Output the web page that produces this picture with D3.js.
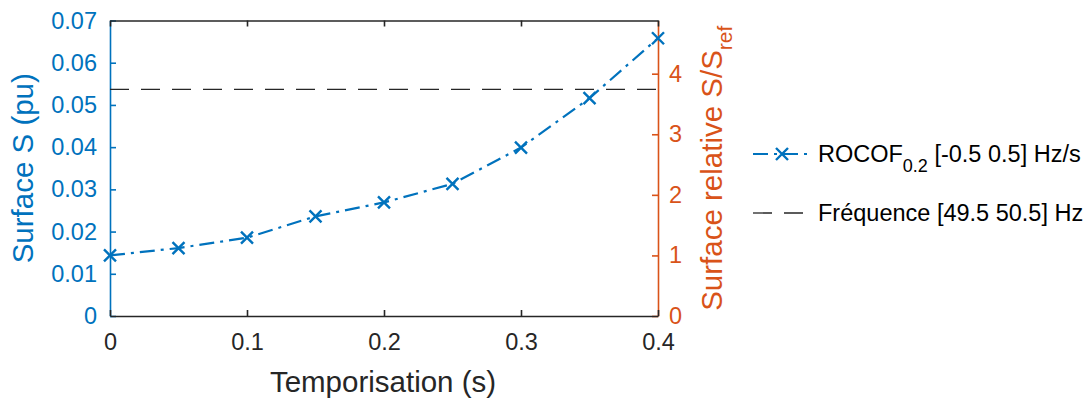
<!DOCTYPE html>
<html><head><meta charset="utf-8">
<script src="https://cdn.jsdelivr.net/npm/d3@7"></script>
<style>
html,body{margin:0;padding:0;background:#fff;}
svg{display:block;font-family:"Liberation Sans",Arial,sans-serif;}
</style></head>
<body><svg id="c" width="1088" height="398"></svg>
<script>
// Data
const temporisation = [0, 0.05, 0.1, 0.15, 0.2, 0.25, 0.3, 0.35, 0.4];
const surfaceROCOF = [0.01435, 0.0161, 0.01855, 0.0236, 0.0269, 0.0313, 0.0399, 0.0516, 0.0658];
const surfaceFreq = 0.0537;
const xTicks = [0, 0.1, 0.2, 0.3, 0.4];
const yTicks = [0, 0.01, 0.02, 0.03, 0.04, 0.05, 0.06, 0.07];
const y2Ticks = [0, 1, 2, 3, 4];
const legendLabels = ["ROCOF", "Fréquence [49.5 50.5] Hz"];

const BLUE = "#0072BD", ORANGE = "#D95319", DARK = "#262626";
const svg = d3.select("#c");
const L = 110, R = 658, T = 20.5, B = 316;
const x = d3.scaleLinear().domain([0, 0.4]).range([L, R]);
const y = d3.scaleLinear().domain([0, 0.07]).range([B, T]);
const sRef = surfaceROCOF[0];
const y2 = d3.scaleLinear().domain([0, 0.07 / sRef]).range([B, T]);

const tickFs = 23.5, labelFs = 29.5;
const FF = "Liberation Sans, Arial, sans-serif";

// Left axis
const gl = svg.append("g").attr("transform", `translate(${L},0)`)
  .call(d3.axisLeft(y).tickValues(yTicks).tickFormat(d3.format(".2~f")).tickSizeInner(-6).tickSizeOuter(0).tickPadding(13));
gl.select(".domain").attr("stroke", BLUE).attr("stroke-width", 1.6);
gl.selectAll(".tick line").attr("stroke", BLUE).attr("stroke-width", 1.6);
gl.selectAll(".tick text").attr("fill", BLUE).attr("font-size", tickFs).attr("font-family", FF);

// Right axis
const gr = svg.append("g").attr("transform", `translate(${R},0)`)
  .call(d3.axisRight(y2).tickValues(y2Ticks).tickFormat(d3.format("d")).tickSizeInner(-6).tickSizeOuter(0).tickPadding(11));
gr.select(".domain").attr("stroke", ORANGE).attr("stroke-width", 1.6);
gr.selectAll(".tick line").attr("stroke", ORANGE).attr("stroke-width", 1.6);
gr.selectAll(".tick text").attr("fill", ORANGE).attr("font-size", tickFs).attr("font-family", FF);

// Bottom axis
const gb = svg.append("g").attr("transform", `translate(0,${B})`)
  .call(d3.axisBottom(x).tickValues(xTicks).tickFormat(d => d === 0 ? "0" : d3.format(".1f")(d)).tickSizeInner(-6).tickSizeOuter(0).tickPadding(17));
gb.select(".domain").attr("stroke", DARK).attr("stroke-width", 1.6);
gb.selectAll(".tick line").attr("stroke", DARK).attr("stroke-width", 1.6);
gb.selectAll(".tick text").attr("fill", DARK).attr("font-size", tickFs).attr("font-family", FF);

// Top axis
const gt = svg.append("g").attr("transform", `translate(0,${T})`)
  .call(d3.axisTop(x).tickValues(xTicks).tickFormat("").tickSizeInner(-6).tickSizeOuter(0));
gt.select(".domain").attr("stroke", DARK).attr("stroke-width", 1.6);
gt.selectAll(".tick line").attr("stroke", DARK).attr("stroke-width", 1.6);

// Frequency dashed line
svg.append("line").attr("x1", L).attr("x2", R).attr("y1", y(surfaceFreq)).attr("y2", y(surfaceFreq))
  .attr("stroke", DARK).attr("stroke-width", 1.3).attr("stroke-dasharray", "19,12");

// ROCOF line
const line = d3.line().x((d, i) => x(temporisation[i])).y(d => y(d));
svg.append("path").datum(surfaceROCOF).attr("d", line).attr("fill", "none")
  .attr("stroke", BLUE).attr("stroke-width", 2.2).attr("stroke-dasharray", "15,6,3,6");

const mk = 6;
function cross(g, cx, cy) {
  g.append("path").attr("d", `M${cx-mk},${cy-mk}L${cx+mk},${cy+mk}M${cx-mk},${cy+mk}L${cx+mk},${cy-mk}`)
    .attr("stroke", BLUE).attr("stroke-width", 2.4).attr("fill", "none");
}
const mg = svg.append("g");
surfaceROCOF.forEach((v, i) => cross(mg, x(temporisation[i]), y(v)));

// Axis labels
svg.append("text").attr("x", (L + R) / 2 - 1).attr("y", 392).attr("text-anchor", "middle")
  .attr("font-size", labelFs).attr("fill", DARK).text("Temporisation (s)");
svg.append("text").attr("transform", `translate(33,${(T + B) / 2}) rotate(-90)`).attr("text-anchor", "middle")
  .attr("font-size", labelFs).attr("fill", BLUE).text("Surface S (pu)");
const rl = svg.append("text").attr("transform", `translate(722,${(T + B) / 2}) rotate(-90)`).attr("text-anchor", "middle")
  .attr("font-size", labelFs).attr("fill", ORANGE);
rl.append("tspan").text("Surface relative S/S");
rl.append("tspan").attr("font-size", 21).attr("dy", 10).text("ref");

// Legend
const lg = svg.append("g");
lg.append("line").attr("x1", 753).attr("x2", 810).attr("y1", 154).attr("y2", 154)
  .attr("stroke", BLUE).attr("stroke-width", 2.2).attr("stroke-dasharray", "15,6,3,6");
cross(lg, 782, 154);
const t1 = lg.append("text").attr("x", 818).attr("y", 162).attr("font-size", tickFs).attr("fill", "#000");
t1.append("tspan").text(legendLabels[0]);
t1.append("tspan").attr("font-size", 18).attr("dy", 10).text("0.2");
t1.append("tspan").attr("dy", -10).text(" [-0.5 0.5] Hz/s");
lg.append("line").attr("x1", 753).attr("x2", 810).attr("y1", 213).attr("y2", 213)
  .attr("stroke", DARK).attr("stroke-width", 1.3).attr("stroke-dasharray", "19,12");
lg.append("text").attr("x", 818).attr("y", 221).attr("font-size", tickFs).attr("fill", "#000").text(legendLabels[1]);
</script></body></html>
